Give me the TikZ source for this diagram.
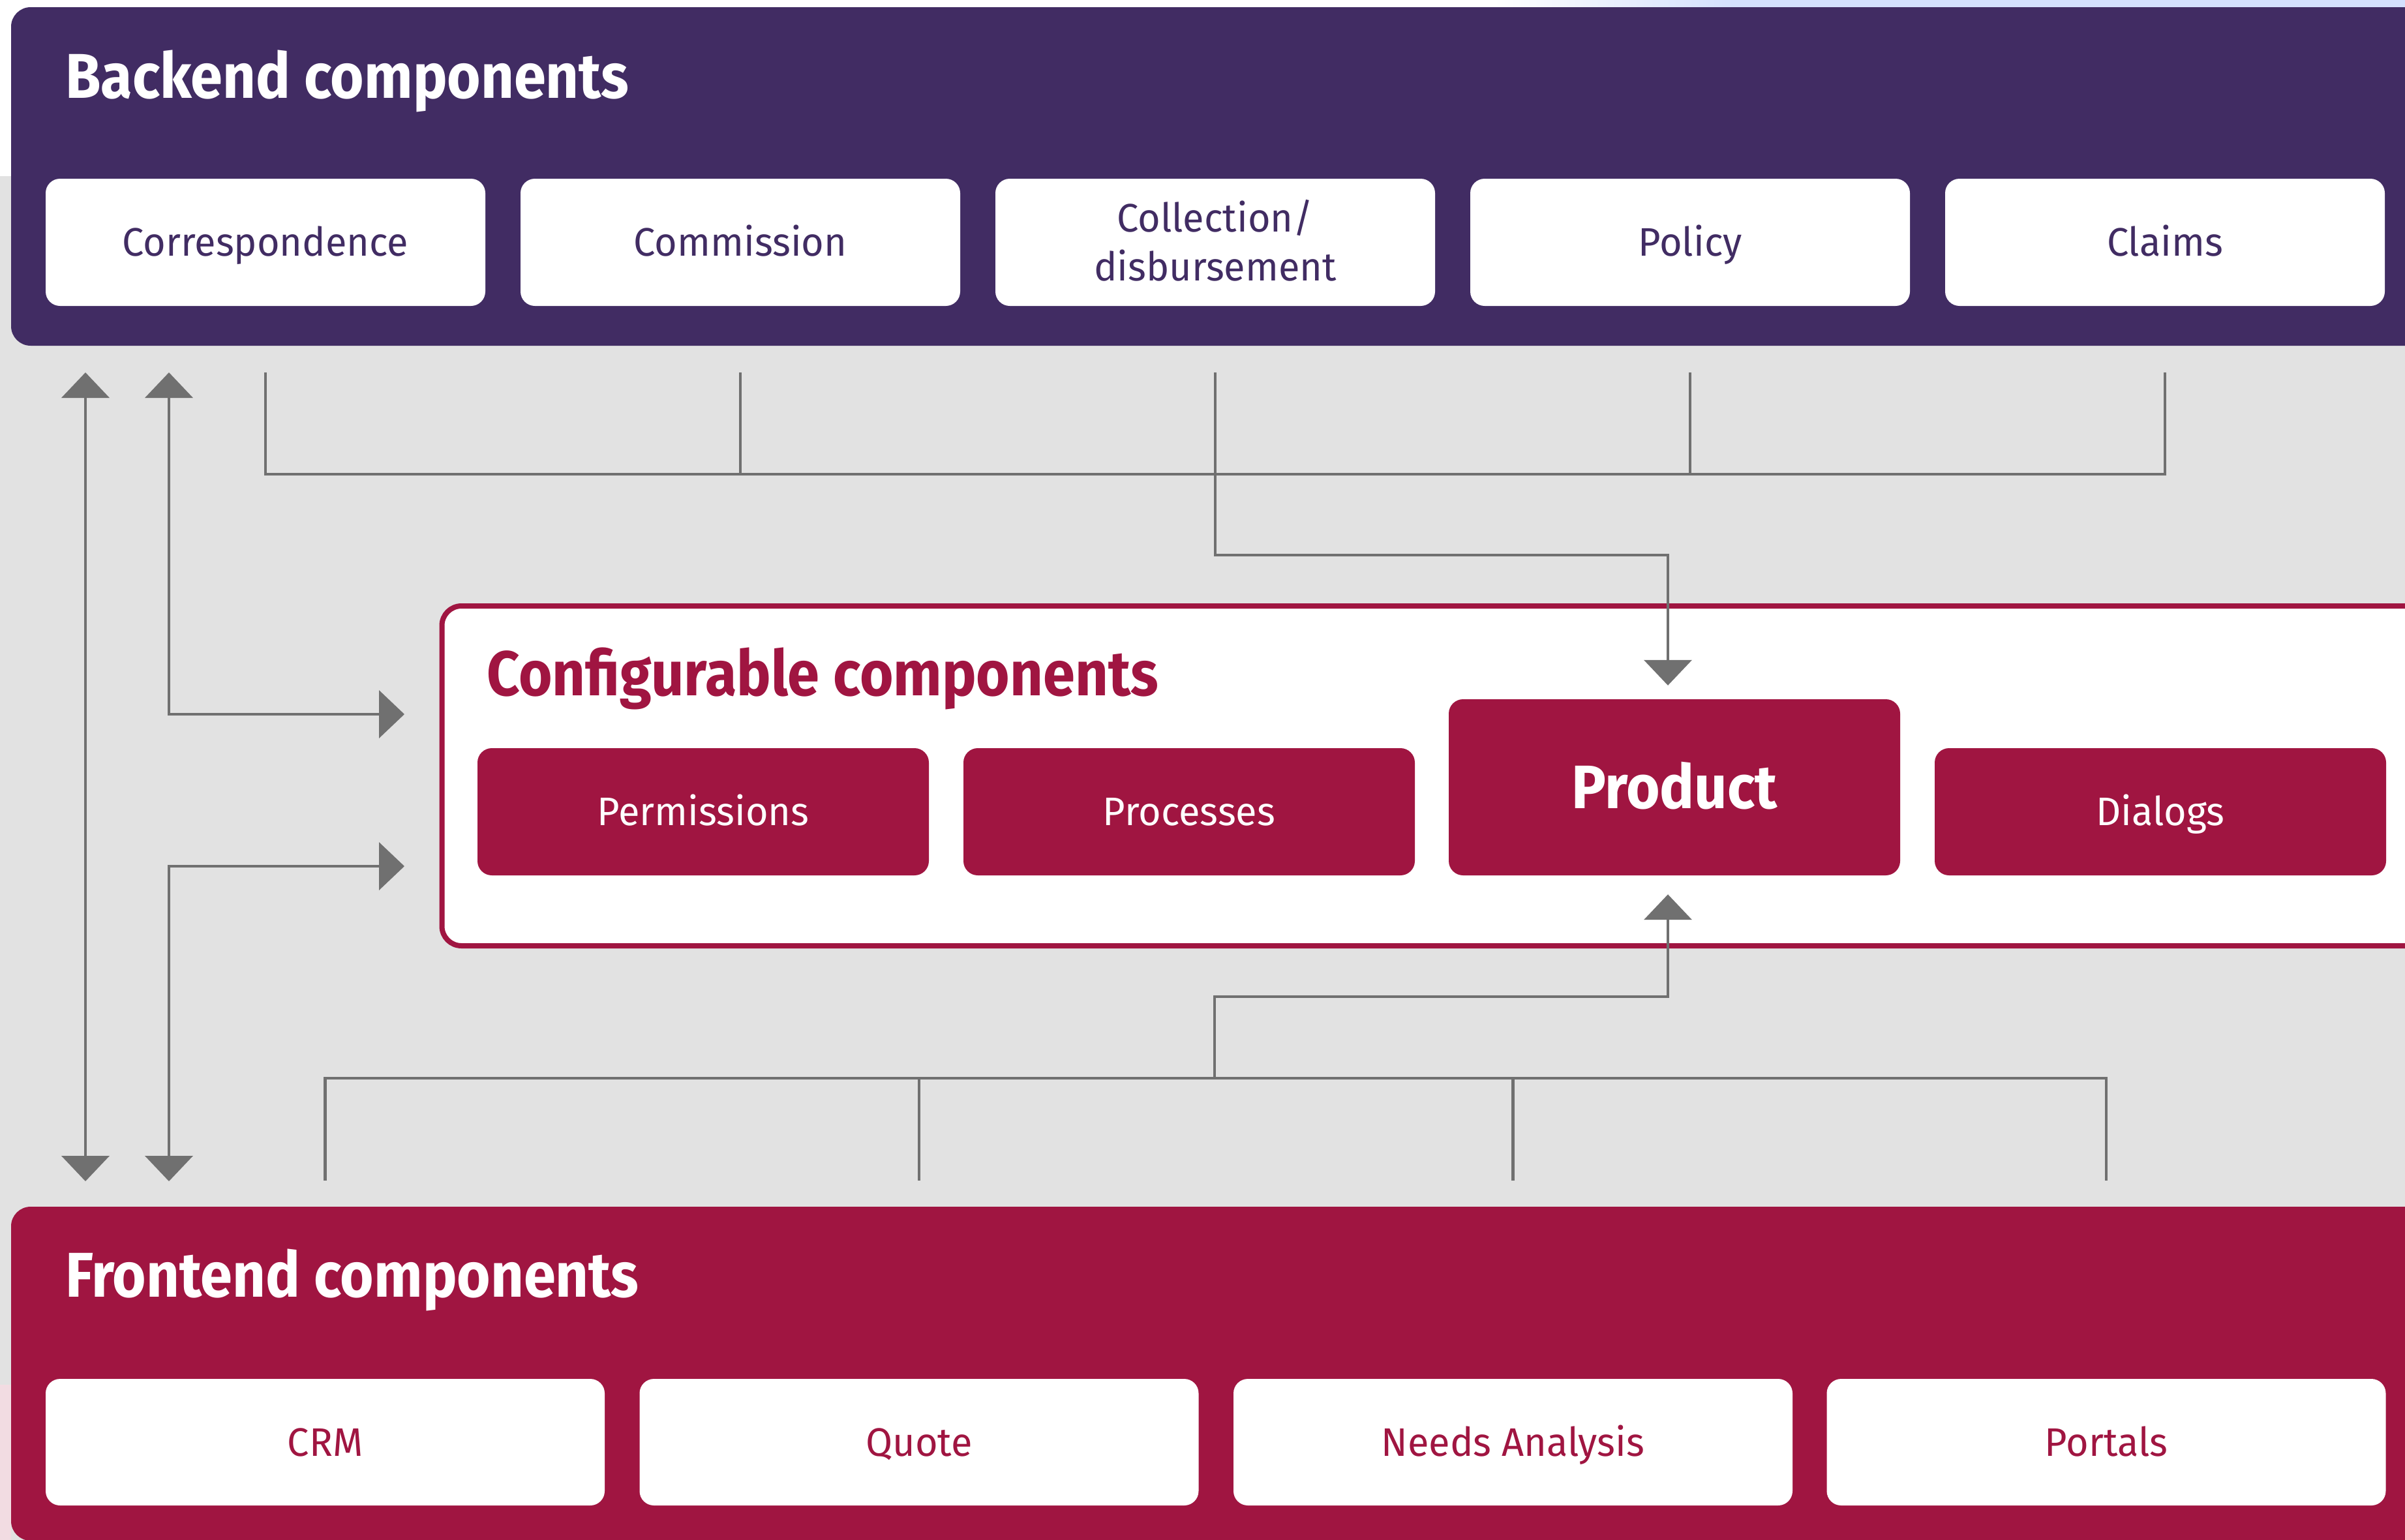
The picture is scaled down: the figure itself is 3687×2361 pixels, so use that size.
\documentclass[tikz,border=0pt]{standalone}
\usepackage{fontspec}
\setmainfont{Fira Sans}
\newfontfamily\titlefam{Fira Sans}[FakeStretch=0.91]
\newfontfamily\prodfam{Fira Sans}[FakeStretch=0.94]
\newfontfamily\lblfam{Fira Sans}[FakeStretch=0.975]
\usetikzlibrary{arrows.meta,calc}
\definecolor{bpurple}{RGB}{65,44,99}
\definecolor{bcrimson}{RGB}{160,21,65}
\definecolor{bggray}{RGB}{226,226,226}
\definecolor{lgray}{RGB}{112,112,112}
\definecolor{skyblue}{RGB}{212,224,253}
\definecolor{pinkish}{RGB}{242,220,226}
\newcommand\lblfont{\lblfam\fontsize{61}{75}\selectfont}
\newcommand\ttlfont{\titlefam\fontsize{97}{110}\selectfont\bfseries}
\newcommand\prodfont{\prodfam\fontsize{94}{105}\selectfont\bfseries}
\begin{document}
\begin{tikzpicture}[x=1pt,y=-1pt,
  container/.style={rectangle, rounded corners=30pt, inner sep=0pt},
  wbox/.style={rectangle, rounded corners=22pt, fill=white, inner sep=0pt,
     minimum height=195pt, text height=42pt, text depth=0pt, font=\lblfont},
  backbox/.style={wbox, minimum width=674pt, text=bpurple},
  frontbox/.style={wbox, minimum width=857pt, minimum height=194pt, text=bcrimson},
  cbox/.style={rectangle, rounded corners=22pt, fill=bcrimson, inner sep=0pt,
     minimum width=692pt, minimum height=195pt, text=white,
     text height=42pt, text depth=0pt, font=\lblfont},
  title/.style={anchor=base west, inner sep=0pt, font=\ttlfont},
  conn/.style={draw=lgray, line width=4.5pt},
  >={Triangle[length=39pt,width=73pt]}]
\useasboundingbox (0,0) rectangle (3687,2361);
\clip (0,0) rectangle (3687,2361);
% backgrounds
\fill[white] (0,0) rectangle (3687,2361);
\fill[bggray] (0,270) rectangle (3687,2361);
\fill[pinkish] (0,2123) rectangle (17,2361);
\fill[left color=white, right color=skyblue] (2290,0) rectangle (2657,12);
\fill[skyblue] (2656,0) rectangle (3687,12);
% containers
\node[container, fill=bpurple, minimum width=3703pt, minimum height=519pt] (backend) at (1868.5,270.5) {};
\node[container, fill=white, draw=bcrimson, line width=8pt, minimum width=3042.5pt, minimum height=521pt] (conf) at (2198.75,1189.5) {};
\node[container, fill=bcrimson, minimum width=3703pt, minimum height=512pt] (frontend) at (1868.5,2106) {};
% titles
\node[title, text=white] (btitle) at (100,150) {Backend components};
\node[title, text=bcrimson] (ctitle) at (746,1066) {Configurable components};
\node[title, text=white] (ftitle) at (100,1988) {Frontend components};
% backend boxes
\node[backbox] (corr) at (407,371.5) {Correspondence};
\node[backbox] (comm) at (1135,371.5) {Commission};
\node[backbox, align=center, text height=117pt, text depth=0pt] (coll) at (1863,371.5) {Collection/\\disbursement};
\node[backbox] (pol) at (2591,371.5) {Policy};
\node[backbox] (clm) at (3319,371.5) {Claims};
% configurable boxes
\node[cbox] (perm) at (1078,1244.5) {Permissions};
\node[cbox] (proc) at (1823,1244.5) {Processes};
\node[cbox, minimum height=270pt, text height=65pt, font=\prodfont] (prod) at (2567,1207) {Product};
\node[cbox] (dlg) at (3312,1244.5) {Dialogs};
% frontend boxes
\node[frontbox] (crm) at (498.5,2211) {CRM};
\node[frontbox] (quote) at (1409,2211) {Quote};
\node[frontbox] (needs) at (2319.5,2211) {Needs Analysis};
\node[frontbox] (port) at (3229,2211) {Portals};
% free ends
\coordinate (la1) at (131,571);
\coordinate (la2) at (131,1811);
\coordinate (lb1) at (259,571);
\coordinate (lb2) at (259,1811);
\coordinate (cin1) at ($(conf.west)+(-53.5,-94.5)$);
\coordinate (cin2) at ($(conf.west)+(-53.5,138.5)$);
% left connectors
\draw[conn,<->] (la1) -- (la2);
\draw[conn,<->] (lb1) |- (cin1);
\draw[conn,<->] (lb2) |- (cin2);
% backend bus
\draw[conn] ($(corr.south)+(0,102)$) |- ($(clm.south)+(0,258)$) -- ($(clm.south)+(0,102)$);
\draw[conn] ($(comm.south)+(0,102)$) -- ($(comm.south)+(0,258)$);
\draw[conn] ($(pol.south)+(0,102)$) -- ($(pol.south)+(0,258)$);
\draw[conn,->] ($(coll.south)+(0,102)$) |- ($(prod.north)+(-10,-221)$) -- ($(prod.north)+(-10,-21)$);
% frontend bus
\draw[conn,<-] ($(prod.south)+(-10,29)$) |- ($(coll.south)+(-1,1059)$) -- ($(coll.south)+(-1,1184)$);
\draw[conn] ($(crm.north)+(0,-304)$) |- ($(port.north)+(0,-461)$) -- ($(port.north)+(0,-304)$);
\draw[conn] ($(quote.north)+(0,-304)$) -- ($(quote.north)+(0,-461)$);
\draw[conn] ($(needs.north)+(0,-304)$) -- ($(needs.north)+(0,-461)$);
\end{tikzpicture}
\end{document}
